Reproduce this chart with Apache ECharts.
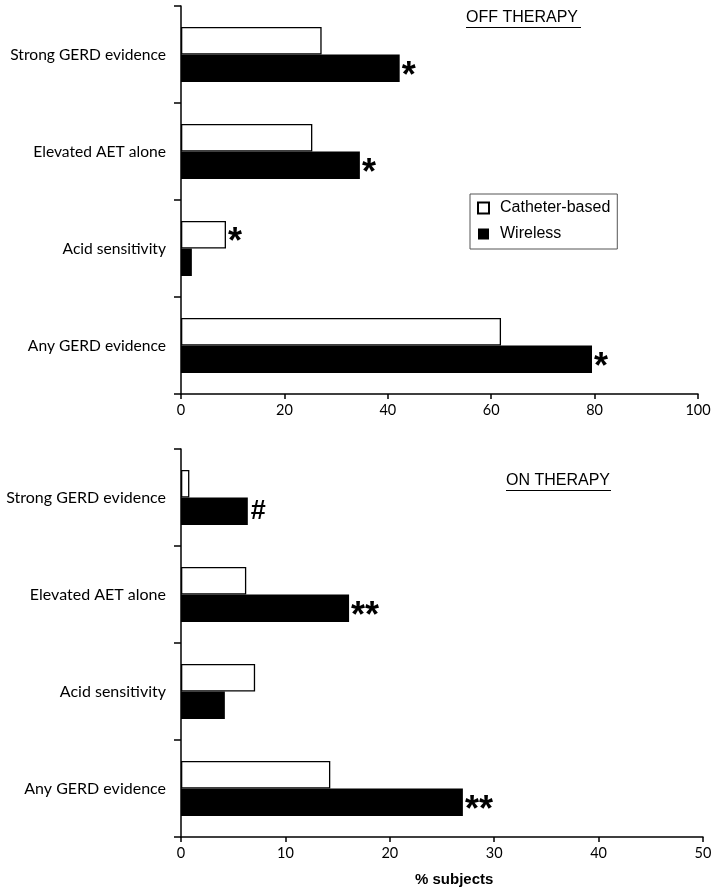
<!DOCTYPE html>
<html>
<head>
<meta charset="utf-8">
<script src="https://cdn.jsdelivr.net/npm/echarts@6/dist/echarts.min.js"></script>
<style>
  html, body { margin: 0; padding: 0; background: #fff; }
  #chart { width: 716px; height: 895px; }
</style>
</head>
<body>
<div id="chart"></div>
<script>
// ---- data ----
const categories = ['Strong GERD evidence', 'Elevated AET alone', 'Acid sensitivity', 'Any GERD evidence'];
const seriesNames = ['Catheter-based', 'Wireless'];
const offCatheter = [27.2, 25.4, 8.7, 61.9];
const offWireless = [42.3, 34.6, 2.1, 79.5];
const onCatheter = [0.8, 6.25, 7.1, 14.3];
const onWireless = [6.4, 16.1, 4.2, 27.0];
const offCatheterMarks = ['', '', '*', ''];
const offWirelessMarks = ['*', '*', '', '*'];
const onCatheterMarks = ['', '', '', ''];
const onWirelessMarks = ['#', '**', '', '**'];
const offAxis = { min: 0, max: 100, interval: 20 };
const onAxis = { min: 0, max: 50, interval: 10 };
const panelTitles = ['OFF THERAPY', 'ON THERAPY'];
const xAxisTitle = '% subjects';

// ---- styles ----
const labelFont = 'Lato';
const black = '#000';

function markLabel(marks) {
  return {
    show: true,
    position: 'right',
    distance: 2,
    color: black,
    fontFamily: 'Liberation Sans',
    fontWeight: 'bold',
    fontSize: 36,
    formatter: p => marks[p.dataIndex] === '#' ? '{h|#}' : (marks[p.dataIndex] ? '{s|' + marks[p.dataIndex] + '}' : ''),
    rich: {
      h: { fontSize: 27, fontWeight: 'bold', fontFamily: 'Liberation Sans', color: black, padding: [0, 0, 0, 1] },
      s: { fontSize: 36, fontWeight: 'bold', fontFamily: 'Liberation Sans', color: black, padding: [17, 0, 0, 0] }
    }
  };
}

function catAxis(gridIndex, size) {
  return {
    type: 'category',
    gridIndex,
    data: categories,
    inverse: true,
    axisLine: { lineStyle: { color: black, width: 1.5 } },
    axisTick: { show: true, length: 7, lineStyle: { color: black, width: 1.5 } },
    axisLabel: { color: black, fontFamily: labelFont, fontSize: size, margin: 15, padding: [4, 0, 0, 0] },
    splitLine: { show: false }
  };
}
function valAxis(gridIndex, ax) {
  return {
    type: 'value',
    gridIndex,
    min: ax.min, max: ax.max, interval: ax.interval,
    axisLine: { show: true, lineStyle: { color: black, width: 1.5 } },
    axisTick: { show: true, length: 5, lineStyle: { color: black, width: 1.5 } },
    axisLabel: { color: black, fontFamily: labelFont, fontSize: 14.5, margin: 9 },
    splitLine: { show: false }
  };
}
function barSeries(name, data, idx, isCath, marks) {
  return {
    name,
    type: 'bar',
    xAxisIndex: idx,
    yAxisIndex: idx,
    data,
    barWidth: 27.5,
    barGap: '0%',
    itemStyle: isCath ? { color: '#fff', borderColor: black, borderWidth: 1.3 } : { color: black },
    label: markLabel(marks),
    emphasis: { disabled: true }
  };
}

const chart = echarts.init(document.getElementById('chart'), null, { renderer: 'canvas' });
chart.setOption({
  animation: false,
  backgroundColor: '#fff',
  grid: [
    { left: 181, right: 18, top: 6, height: 388, containLabel: false },
    { left: 181, right: 13, top: 449, height: 388, containLabel: false }
  ],
  xAxis: [valAxis(0, offAxis), valAxis(1, onAxis)],
  yAxis: [catAxis(0, 15.6), catAxis(1, 16)],
  legend: {
    data: seriesNames,
    orient: 'vertical',
    left: 470,
    top: 194,
    padding: [6, 7, 7, 7],
    itemWidth: 11,
    itemHeight: 11,
    itemGap: 10,
    borderColor: '#555',
    borderWidth: 1,
    icon: 'rect',
    textStyle: { color: black, fontFamily: 'Liberation Sans', fontSize: 16, padding: [0, 0, 0, 6] }
  },
  series: [
    barSeries(seriesNames[0], offCatheter, 0, true, offCatheterMarks),
    barSeries(seriesNames[1], offWireless, 0, false, offWirelessMarks),
    barSeries(seriesNames[0], onCatheter, 1, true, onCatheterMarks),
    barSeries(seriesNames[1], onWireless, 1, false, onWirelessMarks)
  ],
  graphic: [
    { type: 'text', left: 466, top: 10, style: { text: panelTitles[0], fill: black, font: '16px "Liberation Sans"' } },
    { type: 'line', shape: { x1: 466, y1: 27.5, x2: 581, y2: 27.5 }, style: { stroke: black, lineWidth: 1 } },
    { type: 'text', left: 506, top: 473, style: { text: panelTitles[1], fill: black, font: '16px "Liberation Sans"' } },
    { type: 'line', shape: { x1: 506, y1: 490.5, x2: 611, y2: 490.5 }, style: { stroke: black, lineWidth: 1 } },
    { type: 'text', left: 415, top: 872, style: { text: xAxisTitle, fill: black, font: 'bold 15px "Liberation Sans"' } }
  ]
});
</script>
</body>
</html>
